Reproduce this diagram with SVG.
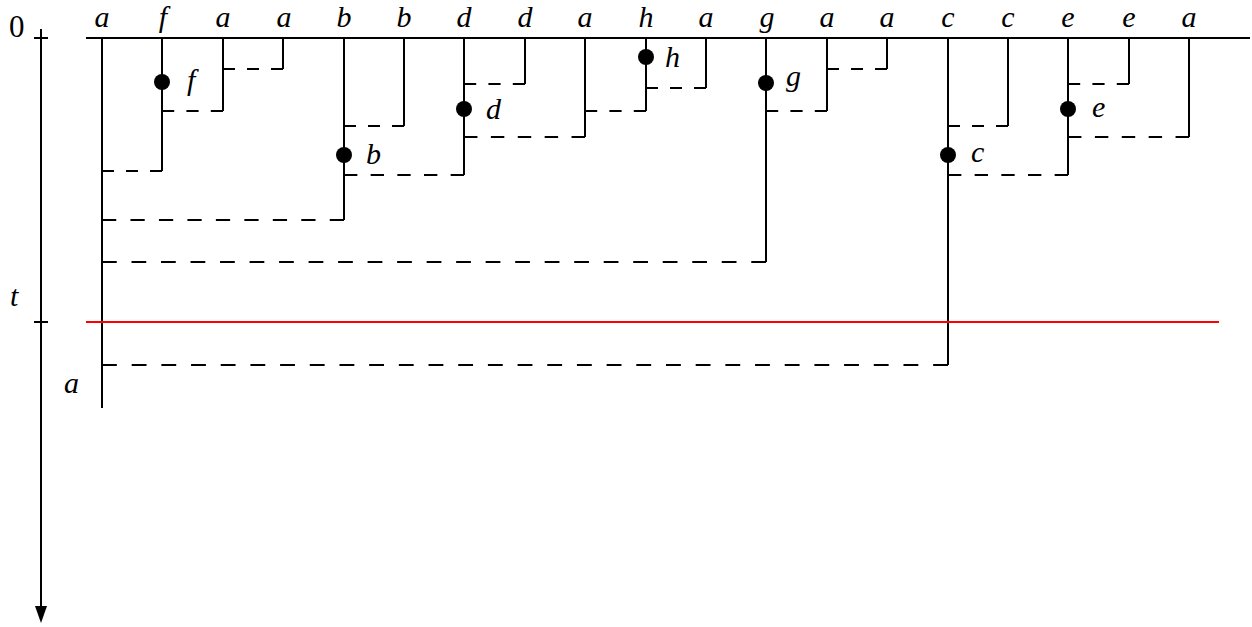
<svg xmlns="http://www.w3.org/2000/svg" width="1252" height="627" viewBox="0 0 1252 627">
<defs>
<style>
.ln{stroke:#000;stroke-width:2;fill:none}
.ds{stroke:#000;stroke-width:2;fill:none}
.dot{fill:#000}
.lb{font-family:"Liberation Serif",serif;font-style:italic;font-size:30px;fill:#000}
.top{text-anchor:middle}
.num{font-family:"Liberation Serif",serif;font-size:31px;fill:#000}
</style>
</defs>
<rect width="1252" height="627" fill="#fff"/>
<g id="axis">
<line class="ln" x1="41" y1="29" x2="41" y2="608"/>
<path d="M35,606 L47,606 L41,623 Z" fill="#000"/>
<line class="ln" x1="34" y1="38" x2="48" y2="38"/>
<line class="ln" x1="34" y1="322" x2="48" y2="322"/>
<text class="num" x="9" y="37">0</text>
<text class="lb" x="10" y="306">t</text>
</g>
<g id="baseline">
<line class="ln" x1="86" y1="38" x2="1250" y2="38"/>
</g>
<g id="top-labels" class="lb top">
<text x="102" y="27">a</text>
<text x="163" y="27">f</text>
<text x="223" y="27">a</text>
<text x="284" y="27">a</text>
<text x="344" y="27">b</text>
<text x="404" y="27">b</text>
<text x="464" y="27">d</text>
<text x="525" y="27">d</text>
<text x="585" y="27">a</text>
<text x="646" y="27">h</text>
<text x="706" y="27">a</text>
<text x="767" y="27">g</text>
<text x="827" y="27">a</text>
<text x="887" y="27">a</text>
<text x="948" y="27">c</text>
<text x="1008" y="27">c</text>
<text x="1068" y="27">e</text>
<text x="1129" y="27">e</text>
<text x="1189" y="27">a</text>
</g>
<g id="col0"><line class="ln" x1="102" y1="38" x2="102" y2="408"/><text class="lb" x="64" y="393">a</text></g>
<g id="col1"><line class="ln" x1="162" y1="38" x2="162" y2="171"/><circle class="dot" cx="162" cy="82" r="8"/><text class="lb" x="187" y="90">f</text></g>
<g id="col2"><line class="ln" x1="223" y1="38" x2="223" y2="111"/></g>
<g id="col3"><line class="ln" x1="283" y1="38" x2="283" y2="69"/></g>
<g id="col4"><line class="ln" x1="344" y1="38" x2="344" y2="220"/><circle class="dot" cx="344" cy="155" r="8"/><text class="lb" x="366" y="164">b</text></g>
<g id="col5"><line class="ln" x1="404" y1="38" x2="404" y2="126"/></g>
<g id="col6"><line class="ln" x1="464" y1="38" x2="464" y2="175"/><circle class="dot" cx="464" cy="109" r="8"/><text class="lb" x="486" y="119">d</text></g>
<g id="col7"><line class="ln" x1="525" y1="38" x2="525" y2="84"/></g>
<g id="col8"><line class="ln" x1="585" y1="38" x2="585" y2="137"/></g>
<g id="col9"><line class="ln" x1="646" y1="38" x2="646" y2="111"/><circle class="dot" cx="646" cy="57" r="8"/><text class="lb" x="665" y="67">h</text></g>
<g id="col10"><line class="ln" x1="706" y1="38" x2="706" y2="88"/></g>
<g id="col11"><line class="ln" x1="766" y1="38" x2="766" y2="262"/><circle class="dot" cx="766" cy="83" r="8"/><text class="lb" x="786" y="86">g</text></g>
<g id="col12"><line class="ln" x1="827" y1="38" x2="827" y2="111"/></g>
<g id="col13"><line class="ln" x1="887" y1="38" x2="887" y2="69"/></g>
<g id="col14"><line class="ln" x1="948" y1="38" x2="948" y2="365"/><circle class="dot" cx="948" cy="155" r="8"/><text class="lb" x="971" y="162">c</text></g>
<g id="col15"><line class="ln" x1="1008" y1="38" x2="1008" y2="126"/></g>
<g id="col16"><line class="ln" x1="1068" y1="38" x2="1068" y2="175"/><circle class="dot" cx="1068" cy="109" r="8"/><text class="lb" x="1092" y="117">e</text></g>
<g id="col17"><line class="ln" x1="1129" y1="38" x2="1129" y2="84"/></g>
<g id="col18"><line class="ln" x1="1189" y1="38" x2="1189" y2="137"/></g>
<g id="connectors" class="ds">
<line x1="223" y1="69" x2="283" y2="69" stroke-dasharray="12"/>
<line x1="162" y1="111" x2="223" y2="111" stroke-dasharray="12.2"/>
<line x1="102" y1="171" x2="162" y2="171" stroke-dasharray="12"/>
<line x1="344" y1="126" x2="404" y2="126" stroke-dasharray="12"/>
<line x1="102" y1="220" x2="344" y2="220" stroke-dasharray="14.235"/>
<line x1="344" y1="175" x2="464" y2="175" stroke-dasharray="13.333"/>
<line x1="464" y1="84" x2="525" y2="84" stroke-dasharray="12.2"/>
<line x1="464" y1="137" x2="585" y2="137" stroke-dasharray="13.444"/>
<line x1="646" y1="88" x2="706" y2="88" stroke-dasharray="12"/>
<line x1="585" y1="111" x2="646" y2="111" stroke-dasharray="12.2"/>
<line x1="102" y1="262" x2="766" y2="262" stroke-dasharray="14.756"/>
<line x1="766" y1="111" x2="827" y2="111" stroke-dasharray="12.2"/>
<line x1="827" y1="69" x2="887" y2="69" stroke-dasharray="12"/>
<line x1="102" y1="365" x2="948" y2="365" stroke-dasharray="14.842"/>
<line x1="948" y1="126" x2="1008" y2="126" stroke-dasharray="12"/>
<line x1="948" y1="175" x2="1068" y2="175" stroke-dasharray="13.333"/>
<line x1="1068" y1="84" x2="1129" y2="84" stroke-dasharray="12.2"/>
<line x1="1068" y1="137" x2="1189" y2="137" stroke-dasharray="13.444"/>
</g>
<g id="time-t">
<line x1="86" y1="322" x2="1219" y2="322" stroke="#ff0000" stroke-width="2"/>
</g>
</svg>
